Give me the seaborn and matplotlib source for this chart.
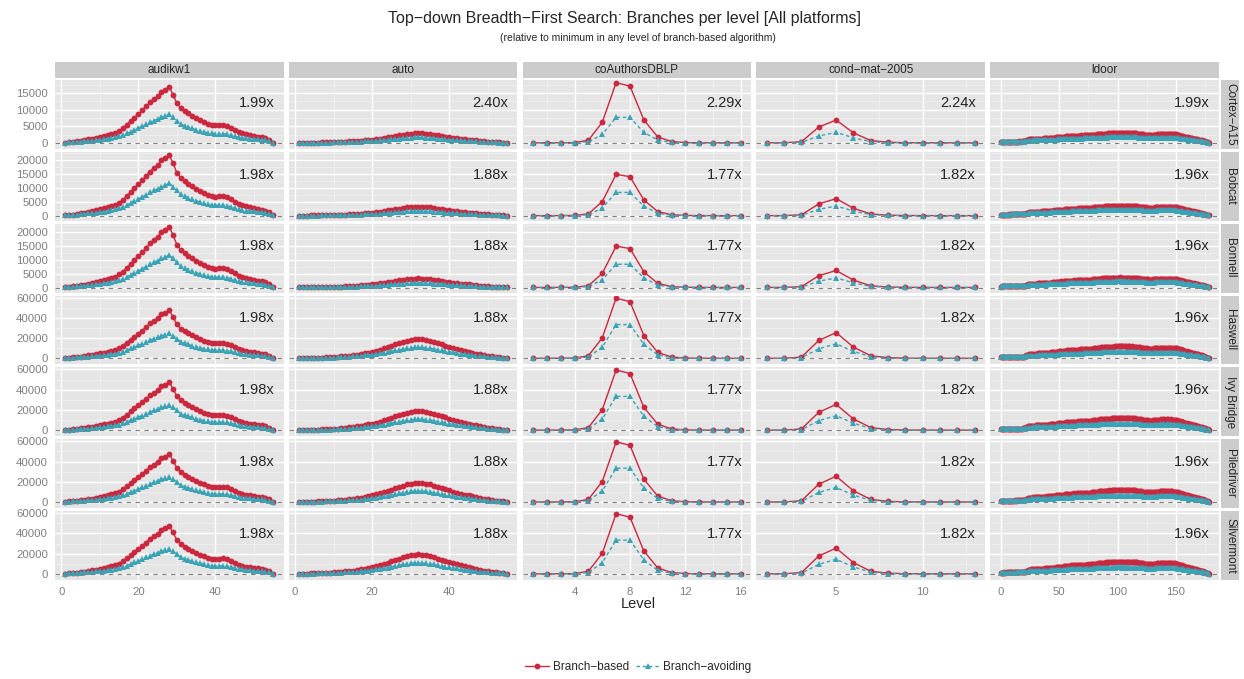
import pandas as pd
import matplotlib
matplotlib.use('Agg')
import matplotlib.pyplot as plt
import seaborn as sns
from matplotlib.patches import Rectangle
from matplotlib.lines import Line2D
from matplotlib.ticker import AutoMinorLocator

# ====== DATA

graphs = ['audikw1', 'auto', 'coAuthorsDBLP', 'cond\u2212mat\u22122005', 'ldoor']
platforms = ['Cortex\u2212A15', 'Bobcat', 'Bonnell', 'Haswell', 'Ivy Bridge', 'Piledriver', 'Silvermont']
algorithms = ['Branch\u2212based', 'Branch\u2212avoiding']

audikw1_levels = list(range(1, 56))
audikw1_based_k = [0.3, 0.6, 0.9, 1.3, 1.8, 2.3, 2.9, 3.5, 4.2, 5.0,
                   5.8, 6.6, 7.5, 8.6, 10.2, 12.5, 15.5, 18.5, 21.5, 24.5,
                   27.5, 31.0, 34.5, 37.0, 39.5, 43.5, 45.0, 47.5, 41.0, 33.5,
                   29.5, 27.0, 25.0, 23.0, 21.0, 19.0, 17.5, 16.0, 15.0, 14.8,
                   15.2, 15.3, 14.5, 13.0, 11.0, 9.0, 8.0, 7.2, 6.6, 6.0,
                   5.4, 4.8, 4.0, 2.6, 0.3]
audikw1_avoiding_k = [0.3, 0.5, 0.7, 0.9, 1.1, 1.4, 1.7, 2.0, 2.4, 2.8,
                      3.2, 3.7, 4.2, 4.8, 5.6, 6.8, 8.2, 9.8, 11.4, 13.0,
                      14.5, 16.2, 18.0, 19.5, 20.8, 22.5, 23.5, 25.0, 22.5, 19.5,
                      16.5, 15.0, 13.8, 12.6, 11.5, 10.5, 9.6, 8.8, 8.2, 8.0,
                      8.1, 8.1, 7.7, 6.9, 5.9, 4.9, 4.4, 4.0, 3.6, 3.3,
                      3.0, 2.6, 2.2, 1.5, 0.2]

auto_levels = list(range(1, 56))
auto_based_k = [0.1, 0.2, 0.3, 0.4, 0.5, 0.7, 0.8, 1.0, 1.2, 1.4,
                1.7, 2.0, 2.4, 2.8, 3.3, 3.8, 4.4, 5.0, 5.8, 6.6,
                7.6, 8.6, 9.8, 11.0, 12.4, 13.8, 15.0, 16.3, 17.4, 18.3,
                18.9, 19.2, 18.9, 18.3, 17.4, 16.3, 15.1, 13.9, 12.7, 11.5,
                10.4, 9.4, 8.4, 7.4, 6.5, 5.6, 4.8, 4.0, 3.3, 2.6,
                2.0, 1.5, 1.0, 0.6, 0.2]
auto_avoiding_k = [0.1, 0.2, 0.2, 0.3, 0.3, 0.4, 0.5, 0.6, 0.7, 0.8,
                   1.0, 1.2, 1.4, 1.6, 1.9, 2.2, 2.5, 2.9, 3.3, 3.8,
                   4.4, 5.0, 5.6, 6.3, 7.1, 7.9, 8.6, 9.3, 10.0, 10.5,
                   10.9, 11.0, 10.9, 10.5, 10.0, 9.3, 8.6, 7.9, 7.2, 6.6,
                   6.0, 5.4, 4.8, 4.3, 3.7, 3.2, 2.8, 2.3, 1.9, 1.5,
                   1.2, 0.9, 0.6, 0.4, 0.2]

coauthors_levels = list(range(1, 17))
coauthors_based_k = [0.05, 0.05, 0.1, 0.3, 2.6, 20.3, 59.5, 56.0,
                     22.6, 5.9, 1.3, 0.3, 0.1, 0.05, 0.05, 0.05]
coauthors_avoiding_k = [0.05, 0.05, 0.1, 0.2, 1.3, 11.1, 33.4, 33.4,
                        13.8, 3.6, 0.7, 0.2, 0.1, 0.05, 0.05, 0.05]

condmat_levels = list(range(1, 14))
condmat_based_k = [0.05, 0.1, 1.3, 17.7, 25.5, 11.1, 2.6, 0.7, 0.2, 0.1, 0.05, 0.05, 0.05]
condmat_avoiding_k = [0.05, 0.1, 0.7, 9.5, 14.4, 6.9, 1.6, 0.3, 0.1, 0.05, 0.05, 0.05, 0.05]

ldoor_levels = list(range(0, 179))
ldoor_based_k = [1.2, 1.3, 1.3, 1.4, 1.3, 1.4, 1.4, 1.5, 1.4, 1.5,
                 1.5, 1.5, 1.6, 1.5, 1.6, 1.6, 1.7, 1.6, 1.7, 1.8,
                 1.8, 2.2, 3.0, 3.8, 4.2, 4.3, 4.4, 4.5, 4.6, 4.6,
                 4.7, 4.8, 4.9, 5.0, 5.0, 5.1, 5.2, 5.3, 5.4, 5.4,
                 5.5, 5.6, 5.8, 5.9, 6.0, 6.2, 6.3, 6.5, 6.6, 6.8,
                 7.0, 7.1, 7.3, 7.2, 7.4, 7.6, 7.7, 7.9, 8.0, 8.1,
                 8.3, 8.2, 8.4, 8.5, 8.4, 8.6, 8.7, 8.6, 8.8, 8.9,
                 8.8, 9.0, 9.1, 9.0, 9.2, 9.3, 9.2, 9.4, 9.6, 9.7,
                 9.9, 10.0, 10.2, 10.3, 10.5, 10.6, 10.8, 10.9, 11.0, 11.2,
                 11.3, 11.2, 11.4, 11.5, 11.4, 11.6, 11.7, 11.6, 11.8, 11.9,
                 12.0, 11.9, 12.1, 12.0, 11.8, 11.9, 12.0, 11.8, 11.7, 11.8,
                 11.9, 11.7, 11.8, 11.6, 11.5, 11.6, 11.4, 11.3, 11.0, 10.8,
                 10.6, 10.4, 10.3, 10.1, 10.0, 9.8, 9.7, 9.6, 9.5, 9.6,
                 9.7, 9.8, 10.0, 10.1, 10.3, 10.4, 10.5, 10.6, 10.5, 10.7,
                 10.6, 10.5, 10.7, 10.6, 10.4, 10.5, 10.6, 10.5, 10.4, 10.3,
                 10.2, 10.0, 9.6, 9.2, 8.8, 8.4, 8.0, 7.6, 7.2, 6.9,
                 6.6, 6.3, 6.0, 5.7, 5.4, 5.1, 4.8, 4.5, 4.2, 3.9,
                 3.6, 3.3, 3.0, 2.6, 2.2, 1.8, 1.3, 0.8, 0.3]
ldoor_avoiding_k = [1.0, 1.1, 1.1, 1.1, 1.1, 1.2, 1.2, 1.2, 1.2, 1.2,
                    1.3, 1.3, 1.3, 1.3, 1.3, 1.4, 1.4, 1.4, 1.4, 1.5,
                    1.5, 1.7, 2.0, 2.3, 2.5, 2.5, 2.6, 2.6, 2.7, 2.7,
                    2.7, 2.8, 2.8, 2.9, 2.9, 3.0, 3.0, 3.1, 3.1, 3.1,
                    3.2, 3.2, 3.3, 3.4, 3.4, 3.5, 3.6, 3.6, 3.7, 3.8,
                    3.9, 3.9, 4.0, 4.0, 4.1, 4.2, 4.2, 4.3, 4.4, 4.4,
                    4.5, 4.5, 4.6, 4.6, 4.6, 4.7, 4.7, 4.7, 4.8, 4.8,
                    4.8, 4.9, 4.9, 4.9, 5.0, 5.0, 5.0, 5.1, 5.2, 5.3,
                    5.4, 5.4, 5.5, 5.6, 5.7, 5.7, 5.8, 5.9, 5.9, 6.0,
                    6.1, 6.0, 6.1, 6.2, 6.1, 6.2, 6.3, 6.2, 6.3, 6.4,
                    6.4, 6.4, 6.5, 6.4, 6.3, 6.4, 6.4, 6.3, 6.3, 6.3,
                    6.4, 6.3, 6.3, 6.2, 6.2, 6.2, 6.1, 6.1, 5.9, 5.8,
                    5.7, 5.6, 5.5, 5.4, 5.4, 5.3, 5.2, 5.2, 5.1, 5.2,
                    5.2, 5.3, 5.4, 5.4, 5.5, 5.6, 5.6, 5.7, 5.6, 5.7,
                    5.7, 5.6, 5.7, 5.7, 5.6, 5.6, 5.7, 5.6, 5.6, 5.5,
                    5.5, 5.4, 5.2, 5.0, 4.8, 4.6, 4.4, 4.2, 4.0, 3.8,
                    3.6, 3.5, 3.3, 3.1, 3.0, 2.8, 2.6, 2.5, 2.3, 2.1,
                    2.0, 1.8, 1.6, 1.4, 1.2, 1.0, 0.7, 0.4, 0.2]

# platform level relative to the Haswell rows (one value per platform)
audikw1_scale_based = [0.355, 0.46, 0.46, 1, 1, 1, 1]
audikw1_scale_avoiding = [0.345, 0.465, 0.465, 1, 1, 1, 1]
auto_scale_based = [0.15, 0.17, 0.17, 1, 1, 1, 1]
auto_scale_avoiding = [0.15, 0.155, 0.155, 1, 1, 1, 1]
coauthors_scale_based = [0.305, 0.25, 0.25, 1, 1, 1, 1]
coauthors_scale_avoiding = [0.23, 0.25, 0.25, 1, 1, 1, 1]
condmat_scale_based = [0.27, 0.24, 0.24, 1, 1, 1, 1]
condmat_scale_avoiding = [0.22, 0.24, 0.24, 1, 1, 1, 1]
ldoor_scale_based = [0.25, 0.3, 0.3, 1, 1, 1, 1]
ldoor_scale_avoiding = [0.27, 0.34, 0.34, 1, 1, 1, 1]

# speed-up labels
audikw1_ratio = ['1.99x', '1.98x', '1.98x', '1.98x', '1.98x', '1.98x', '1.98x']
auto_ratio = ['2.40x', '1.88x', '1.88x', '1.88x', '1.88x', '1.88x', '1.88x']
coauthors_ratio = ['2.29x', '1.77x', '1.77x', '1.77x', '1.77x', '1.77x', '1.77x']
condmat_ratio = ['2.24x', '1.82x', '1.82x', '1.82x', '1.82x', '1.82x', '1.82x']
ldoor_ratio = ['1.99x', '1.96x', '1.96x', '1.96x', '1.96x', '1.96x', '1.96x']

x_ticks = [[0, 20, 40], [0, 20, 40], [4, 8, 12, 16], [5, 10], [0, 50, 100, 150]]
y_ticks = [[0, 5000, 10000, 15000]] + [[0, 5000, 10000, 15000, 20000]] * 2 + [[0, 20000, 40000, 60000]] * 4
y_limits = [(-1800, 18900)] + [(-1800, 22900)] * 2 + [(-5900, 62000)] * 4

# ====== LONG TABLE

tables = [
    (audikw1_levels, audikw1_based_k, audikw1_avoiding_k, audikw1_scale_based, audikw1_scale_avoiding),
    (auto_levels, auto_based_k, auto_avoiding_k, auto_scale_based, auto_scale_avoiding),
    (coauthors_levels, coauthors_based_k, coauthors_avoiding_k, coauthors_scale_based, coauthors_scale_avoiding),
    (condmat_levels, condmat_based_k, condmat_avoiding_k, condmat_scale_based, condmat_scale_avoiding),
    (ldoor_levels, ldoor_based_k, ldoor_avoiding_k, ldoor_scale_based, ldoor_scale_avoiding),
]
ratios = [audikw1_ratio, auto_ratio, coauthors_ratio, condmat_ratio, ldoor_ratio]

rows = []
for graph, (lv, based, avoid, sb, sa) in zip(graphs, tables):
    for p, platform in enumerate(platforms):
        for level, b, a in zip(lv, based, avoid):
            rows.append((graph, platform, level, algorithms[0], b * 1000 * sb[p]))
            rows.append((graph, platform, level, algorithms[1], a * 1000 * sa[p]))
df = pd.DataFrame(rows, columns=['graph', 'platform', 'level', 'algorithm', 'branches'])

# ====== PLOT

sns.set_style('white')
plt.rcParams['font.family'] = ['Liberation Sans', 'DejaVu Sans']

palette = {algorithms[0]: '#C9283E', algorithms[1]: '#3AA3B6'}
markers = {algorithms[0]: 'o', algorithms[1]: '^'}
dashes = {algorithms[0]: '', algorithms[1]: (2.5, 2)}

fig, axs = plt.subplots(7, 5, sharex='col', sharey='row', figsize=(12.44, 6.79), dpi=100)
fig.subplots_adjust(left=0.044, right=0.98, top=0.882, bottom=0.146, wspace=0.022, hspace=0.045)

for i, platform in enumerate(platforms):
    for j, graph in enumerate(graphs):
        ax = axs[i, j]
        data = df[(df['platform'] == platform) & (df['graph'] == graph)]
        sns.lineplot(data=data, x='level', y='branches', hue='algorithm', style='algorithm',
                     hue_order=algorithms, style_order=algorithms, palette=palette,
                     markers=markers, dashes=dashes, markersize=4.2, markeredgewidth=0,
                     linewidth=1.0, estimator=None, legend=False, ax=ax)
        ax.axhline(0, color='#7F7F7F', linestyle=(0, (4, 4)), linewidth=0.8, zorder=5)
        ax.set_facecolor('#E5E5E5')
        for s in ax.spines.values():
            s.set_visible(False)
        ax.set_xlabel('')
        ax.set_ylabel('')
        ax.set_xticks(x_ticks[j])
        ax.set_yticks(y_ticks[i])
        ax.set_ylim(*y_limits[i])
        ax.xaxis.set_minor_locator(AutoMinorLocator(2))
        ax.yaxis.set_minor_locator(AutoMinorLocator(2))
        ax.grid(which='major', color='white', linewidth=1.0)
        ax.grid(which='minor', color='#F2F2F2', linewidth=0.5)
        ax.set_axisbelow(True)
        ax.tick_params(which='both', length=0, labelsize=8.2, labelcolor='#7F7F7F', pad=2)
        if j == 0:
            ax.tick_params(axis='y', which='major', length=3, color='#7F7F7F')
        if i == len(platforms) - 1:
            ax.tick_params(axis='x', which='major', length=3, color='#7F7F7F')
        ax.text(0.96, 0.67, ratios[j][i], transform=ax.transAxes, ha='right', va='center', fontsize=10.5)

        if i == 0:
            ax.add_patch(Rectangle((0, 1.029), 1, 0.232, transform=ax.transAxes, facecolor='#CCCCCC',
                                   edgecolor='none', clip_on=False))
            ax.text(0.5, 1.145, graph, transform=ax.transAxes, ha='center', va='center', fontsize=8.5)
        if j == len(graphs) - 1:
            ax.add_patch(Rectangle((1.009, 0), 0.079, 1, transform=ax.transAxes, facecolor='#CCCCCC',
                                   edgecolor='none', clip_on=False))
            ax.text(1.0485, 0.5, platform, transform=ax.transAxes, ha='center', va='center',
                    rotation=-90, fontsize=8.5)

fig.text(0.502, 1 - 18 / 679, 'Top\u2212down Breadth\u2212First Search: Branches per level [All platforms]',
         ha='center', va='center', fontsize=11.5)
fig.text(0.513, 1 - 38 / 679, '(relative to minimum in any level of branch-based algorithm)',
         ha='center', va='center', fontsize=7.5)
fig.text(0.513, 1 - 604 / 679, 'Level', ha='center', va='center', fontsize=10.5)

handles = [Line2D([], [], color=palette[a], marker=markers[a], markersize=4.2, markeredgewidth=0,
                  linewidth=1.0, linestyle='-' if a == algorithms[0] else (0, (2.5, 2))) for a in algorithms]
fig.legend(handles, algorithms, loc='center', bbox_to_anchor=(0.513, 1 - 667 / 679), ncol=2,
           frameon=False, fontsize=8.5, handlelength=2.0, handletextpad=0.3, columnspacing=0.6)

fig.savefig('out.png', dpi=100)
plt.close()
